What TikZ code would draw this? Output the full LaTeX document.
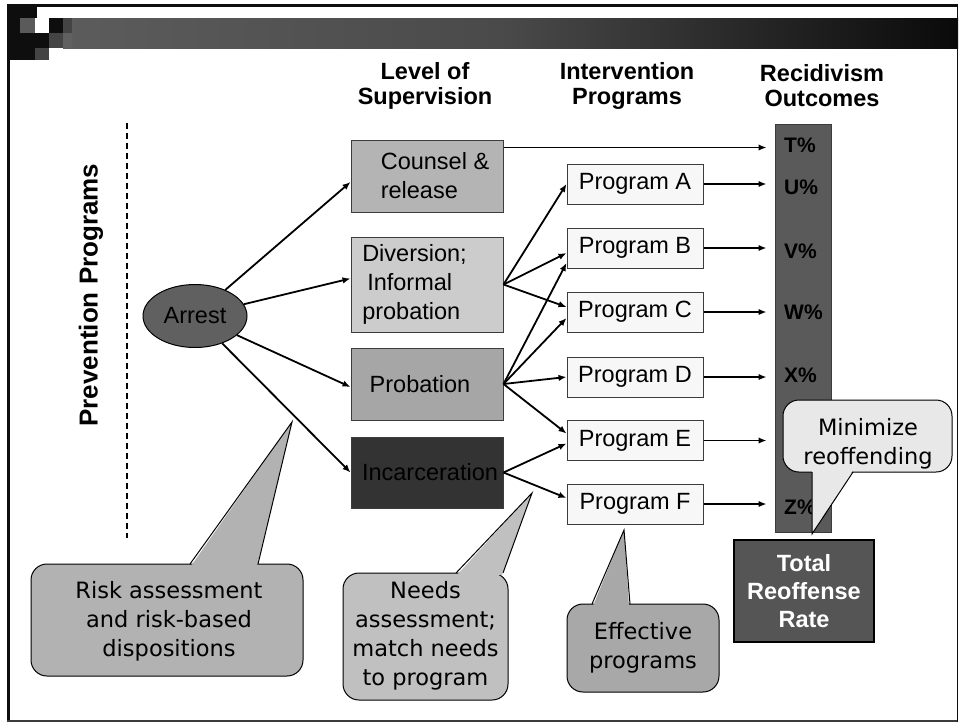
\documentclass[tikz,border=0pt]{standalone}
\usepackage{fontspec}
\setmainfont{Liberation Sans}
\newfontfamily\verd{DejaVu Sans}
\usetikzlibrary{arrows.meta,shapes.geometric}
\definecolor{barA}{RGB}{92,92,92}
\definecolor{barB}{RGB}{74,74,74}
\definecolor{barC}{RGB}{10,10,10}
\definecolor{blk}{RGB}{14,14,14}
\definecolor{sqA}{RGB}{90,90,90}
\definecolor{sqB}{RGB}{68,68,68}
\definecolor{sqC}{RGB}{96,96,96}
\definecolor{cCR}{RGB}{180,180,180}
\definecolor{cDV}{RGB}{204,204,204}
\definecolor{cPB}{RGB}{166,166,166}
\definecolor{cIC}{RGB}{51,51,51}
\definecolor{cArrest}{RGB}{96,96,96}
\definecolor{cProg}{RGB}{247,247,247}
\definecolor{cCol}{RGB}{90,90,90}
\definecolor{cTot}{RGB}{85,85,85}
\definecolor{cRisk}{RGB}{178,178,178}
\definecolor{cNeeds}{RGB}{192,192,192}
\definecolor{cEff}{RGB}{168,168,168}
\definecolor{cMin}{RGB}{232,232,232}
\definecolor{cBorder}{RGB}{60,60,60}
\begin{document}
\begin{tikzpicture}[x=1pt,y=-1pt,
  arr/.style={line width=1.8pt,-{Latex[length=8pt,width=6.5pt]}},
  supbox/.style={draw=cBorder,line width=1pt,minimum width=152pt,inner sep=0pt,
    font=\fontsize{23.5}{29}\selectfont},
  progbox/.style={draw=cBorder,line width=1pt,fill=cProg,minimum width=136pt,
    minimum height=40pt,inner sep=0pt,font=\fontsize{23.5}{29}\selectfont},
  hdr/.style={font=\bfseries\fontsize{23.5}{25}\selectfont,align=center,inner sep=0pt},
  pct/.style={font=\bfseries\fontsize{21}{21}\selectfont,anchor=west,inner sep=0pt},
  calltext/.style={font=\verd\fontsize{22.5}{29}\selectfont,align=center,inner sep=0pt},
  callline/.style={line width=1pt,draw=black}
]
\useasboundingbox (0,0) rectangle (960,723);
\fill[white] (0,0) rectangle (960,723);
% ---- slide frame and title bar
\fill[blk] (7,4) rectangle (958,7);
\fill[left color=barA,right color=barB] (63,18) rectangle (500,48);
\fill[left color=barB,right color=barC] (500,18) rectangle (958,48);
\fill[blk] (7,4) rectangle (35,60);
\fill[sqA] (20,18) rectangle (35,33);
\fill[blk] (35,4) rectangle (37,18);
\fill[blk] (49,18) rectangle (63,33);
\fill[sqB] (63,18) rectangle (72,33);
\fill[blk] (35,33) rectangle (49,48);
\fill[sqB] (49,33) rectangle (63,48);
\fill[sqC] (63,33) rectangle (72,48);
\fill[sqB] (35,48) rectangle (49,60);
\fill[blk] (7,4) rectangle (9.5,722);
\fill[cBorder] (7,719.5) rectangle (958,722);
\fill[blk] (956.5,4) rectangle (958,722);
% ---- headers
\node[hdr] (h1) at (425,86) {Level of\\Supervision};
\node[hdr] (h2) at (627,86) {Intervention\\Programs};
\node[hdr] (h3) at (822,86) {Recidivism\\Outcomes};
\node[rotate=90,inner sep=0pt,font=\bfseries\fontsize{26}{26}\selectfont] (prev) at (91,295) {Prevention Programs};
\coordinate (dtop) at (127,123);
\coordinate (dbot) at (127,538);
\draw[line width=2pt,dash pattern=on 6pt off 4pt] (dtop) -- (dbot);
% ---- outcome column
\node[draw=cBorder,line width=1pt,fill=cCol,minimum width=56pt,minimum height=408pt,inner sep=0pt] (col) at (803,328) {};
\node[pct] (tT) at (784,145) {T\%};
\node[pct] (tU) at (784,187) {U\%};
\node[pct] (tV) at (784,251) {V\%};
\node[pct] (tW) at (784,312) {W\%};
\node[pct] (tX) at (784,375) {X\%};
\node[pct] (tZ) at (784,507) {Z\%};
% ---- arrest
\node[ellipse,draw=black,line width=1pt,fill=cArrest,minimum width=104pt,minimum height=63pt,inner sep=0pt,
  font=\fontsize{23.5}{29}\selectfont] (arrest) at (195,316) {Arrest};
% ---- supervision boxes
\node[supbox,fill=cCR,minimum height=72pt,align=left] (sCR) at (427,176)
  {\hspace*{16pt}Counsel \&\\\hspace*{16pt}release};
\node[supbox,fill=cDV,minimum height=95pt,align=left] (sDV) at (427,284.5)
  {Diversion;\hspace*{25pt}\\\hspace*{5pt}Informal\\probation};
\node[supbox,fill=cPB,minimum height=72pt] (sPB) at (427,384) {Probation\hspace*{14pt}};
\node[supbox,fill=cIC,minimum height=71pt,text=black] (sIC) at (427,472.5) {\hspace*{6pt}Incarceration};
% ---- program boxes
\node[progbox] (pA) at (635,184) {Program A};
\node[progbox] (pB) at (635,248) {Program B};
\node[progbox] (pC) at (635,312) {Program C};
\node[progbox] (pD) at (635,377) {Program D};
\node[progbox] (pE) at (635,440.5) {Program E};
\node[progbox] (pF) at (635,504) {Program F};
% ---- connectors
\draw[arr] (arrest) -- ([yshift=-6pt]sCR.west);
\draw[arr] (arrest) -- ([yshift=6pt]sDV.west);
\draw[arr] (arrest) -- ([yshift=-3pt]sPB.west);
\draw[arr] (arrest) -- (sIC.west);
\draw[arr] (sDV.east) -- (pA.west);
\draw[arr] (sDV.east) -- ([yshift=-5pt]pB.west);
\draw[arr] (sDV.east) -- ([yshift=5pt]pC.west);
\draw[arr] (sPB.east) -- ([yshift=-15pt]pB.west);
\draw[arr] (sPB.east) -- ([yshift=-6pt]pC.west);
\draw[arr] (sPB.east) -- (pD.west);
\draw[arr] (sPB.east) -- ([yshift=7pt]pE.west);
\draw[arr] (sIC.east) -- ([yshift=-3pt]pE.west);
\draw[arr] (sIC.east) -- ([yshift=6pt]pF.west);
\coordinate (tstart) at ([yshift=-8pt]sCR.north east);
\draw[arr,shorten >=8pt] (tstart) -- (tstart -| col.west);
\draw[arr,shorten >=8pt] (pA.east) -- (pA.east -| col.west);
\draw[arr,shorten >=8pt] (pB.east) -- (pB.east -| col.west);
\draw[arr,shorten >=8pt] (pC.east) -- (pC.east -| col.west);
\draw[arr,shorten >=8pt] (pD.east) -- (pD.east -| col.west);
\draw[arr,shorten >=8pt] (pE.east) -- (pE.east -| col.west);
\draw[arr,shorten >=8pt] (pF.east) -- (pF.east -| col.west);
% ---- total box
\node[draw=black,line width=2.5pt,fill=cTot,minimum width=140pt,minimum height=102pt,inner sep=0pt,
  text=white,align=center,font=\bfseries\fontsize{23.5}{28}\selectfont] (tot) at (804,591) {Total\\Reoffense\\Rate};
% ---- callouts
\draw[callline,fill=cRisk,rounded corners=16pt] (31,564) rectangle (303,676);
\fill[cRisk] (191,566) -- (292,422) -- (257,566) -- cycle;
\draw[callline] (190,564) -- (292,422) -- (258,564);
\node[calltext] (tRisk) at (169,621.5) {Risk assessment\\and risk-based\\dispositions};

\draw[callline,fill=cNeeds,rounded corners=16pt] (343,573) rectangle (508,700);
\fill[cNeeds] (457,575) -- (532,493) -- (502,575) -- cycle;
\draw[callline] (456,573) -- (532,493) -- (503,573);
\node[calltext] (tNeeds) at (425.5,636) {Needs\\assessment;\\match needs\\to program};

\draw[callline,fill=cEff,rounded corners=16pt] (567,604) rectangle (719,692);
\fill[cEff] (593,606) -- (624,530) -- (629,606) -- cycle;
\draw[callline] (592,604) -- (624,530) -- (630,604);
\node[calltext] (tEff) at (643,648) {Effective\\programs};

\draw[callline,fill=cMin,rounded corners=16pt] (783,400) rectangle (952,472);
\fill[cMin] (812,470) -- (812,534) -- (853,470) -- cycle;
\draw[callline] (812,472) -- (812,534) -- (853,472);
\node[calltext] (tMin) at (868,444) {Minimize\\reoffending};
\end{tikzpicture}
\end{document}
